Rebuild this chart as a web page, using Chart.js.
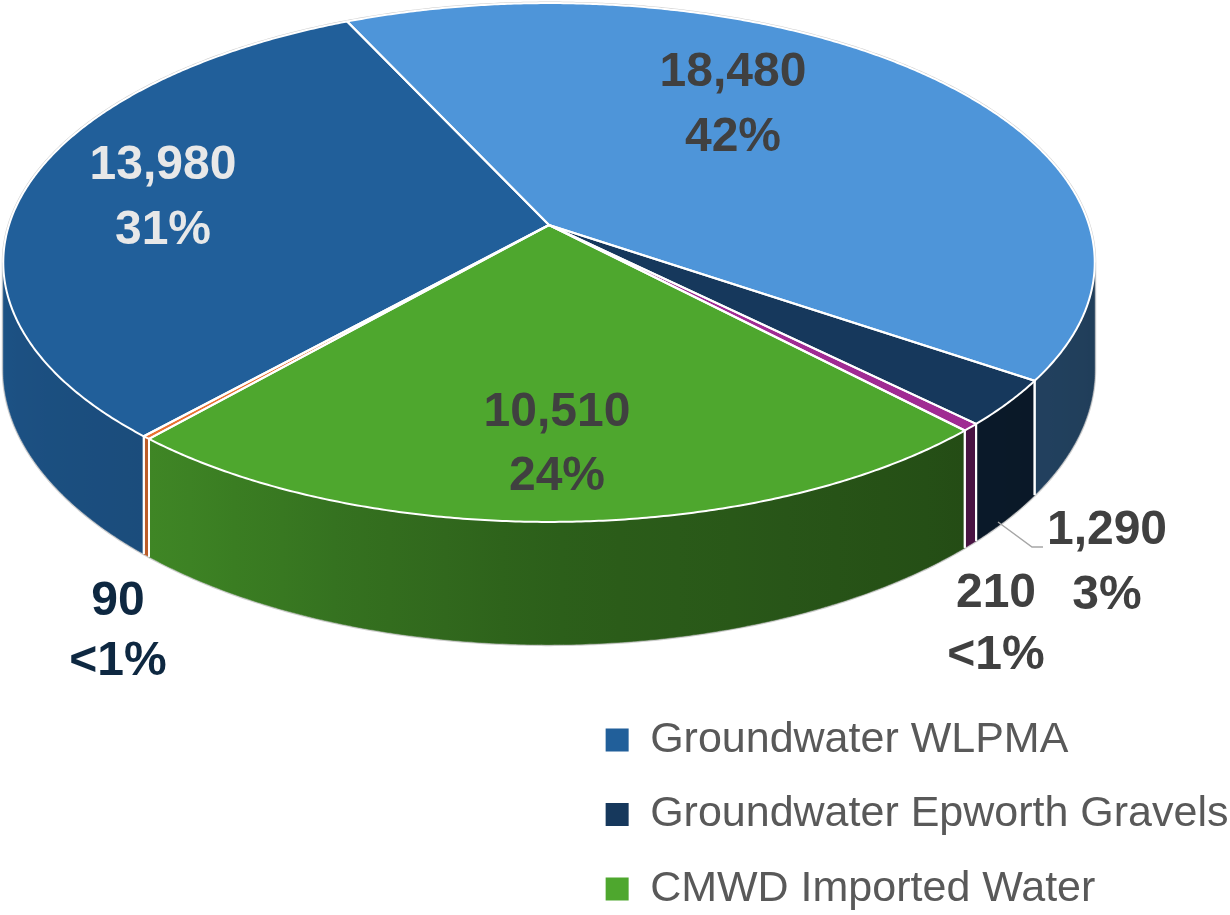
<!DOCTYPE html>
<html>
<head>
<meta charset="utf-8">
<script src="https://cdn.jsdelivr.net/npm/chart.js@4.4.1/dist/chart.umd.min.js"></script>
<style>
  html, body { margin: 0; padding: 0; background: #ffffff; }
  #wrap { width: 1230px; height: 915px; position: relative; }
</style>
</head>
<body>
<div id="wrap"><canvas id="c" width="1230" height="915"></canvas></div>
<script>
// ---------------- data ----------------
const categories = [
  'Other source 1',
  'Groundwater Epworth Gravels',
  'Other source 2',
  'CMWD Imported Water',
  'Other source 3',
  'Groundwater WLPMA'
];
const values = [18480, 1290, 210, 10510, 90, 13980];
const valueLabels = ['18,480', '1,290', '210', '10,510', '90', '13,980'];
const percentLabels = ['42%', '3%', '<1%', '24%', '<1%', '31%'];
const legendCategories = ['Groundwater WLPMA', 'Groundwater Epworth Gravels', 'CMWD Imported Water'];

// ---------------- styles ----------------
const sliceColors = ['#4E95D9', '#16385C', '#A02B93', '#4EA72E', '#E97132', '#215F9A'];
// label placement (canvas px): centre of value line, centre of percent line
const labelLayout = [
  { x: 733, y1: 73,  y2: 138, color: '#404040' },
  { x: 1107, y1: 531, y2: 596, color: '#404040' },
  { x: 996, y1: 594, y2: 656, color: '#404040' },
  { x: 557, y1: 413, y2: 477, color: '#404040' },
  { x: 118, y1: 602, y2: 662, color: '#0E2841' },
  { x: 163, y1: 166, y2: 231, color: '#E8E8E8' }
];
const leaderLine = [[998, 522], [1032, 547], [1043, 547]];

// 3D projection parameters
const PROJ = { cx: 549, cy: 225, a: 540, b: 254, k: 0.1445, depth: 105 };

function proj(theta, r, z) {
  const u = r * Math.cos(theta), v = r * Math.sin(theta);
  const w = 1 - PROJ.k * v;
  return [PROJ.cx + PROJ.a * u / w, PROJ.cy + (PROJ.b * v + PROJ.depth * z) / w];
}
function hexToRgb(h) {
  const n = parseInt(h.slice(1), 16);
  return [(n >> 16) & 255, (n >> 8) & 255, n & 255];
}
function shade(hex, f) {
  const [r, g, b] = hexToRgb(hex);
  return 'rgb(' + Math.round(r * f) + ',' + Math.round(g * f) + ',' + Math.round(b * f) + ')';
}
const shadeCurve = [[0, 0.40], [40, 0.44], [90, 0.57], [130, 0.80], [180, 0.88]];
function sideFactor(theta) {
  let d = theta * 180 / Math.PI;
  d = ((d % 360) + 360) % 360;
  if (d > 180) d = 180;
  for (let i = 1; i < shadeCurve.length; i++) {
    if (d <= shadeCurve[i][0]) {
      const [d0, f0] = shadeCurve[i - 1], [d1, f1] = shadeCurve[i];
      return f0 + (f1 - f0) * (d - d0) / (d1 - d0);
    }
  }
  return shadeCurve[shadeCurve.length - 1][1];
}

const STEP = 0.4 * Math.PI / 180;

const pie3d = {
  id: 'pie3d',
  beforeDatasetDraw() { return false; },
  afterDatasetsDraw(chart) {
    const ctx = chart.ctx;
    const meta = chart.getDatasetMeta(0);
    const colors = chart.data.datasets[0].backgroundColor;
    const arcs = meta.data.map((el, i) => ({ s: el.startAngle, e: el.endAngle, color: colors[i] }));
    const t1 = Math.asin(PROJ.k), t2 = Math.PI - t1;
    ctx.save();
    ctx.lineJoin = 'round';

    // silhouette outline
    ctx.beginPath();
    let p = proj(t2, 1, 1); ctx.moveTo(p[0], p[1]);
    for (let t = t2; t <= t1 + 2 * Math.PI; t += STEP) { p = proj(t, 1, 0); ctx.lineTo(p[0], p[1]); }
    p = proj(t1, 1, 0); ctx.lineTo(p[0], p[1]);
    for (let t = t1; t <= t2; t += STEP) { p = proj(t, 1, 1); ctx.lineTo(p[0], p[1]); }
    ctx.closePath();
    ctx.strokeStyle = '#cfcfcf';
    ctx.lineWidth = 3;
    ctx.stroke();

    // side walls
    const sideEdges = [];
    arcs.forEach(arc => {
      for (let n = -1; n <= 1; n++) {
        const a = Math.max(arc.s + 2 * Math.PI * n, t1);
        const b = Math.min(arc.e + 2 * Math.PI * n, t2);
        if (b <= a) continue;
        const N = Math.max(2, Math.ceil((b - a) / STEP));
        ctx.beginPath();
        for (let i = 0; i <= N; i++) {
          const q = proj(a + (b - a) * i / N, 1, 0);
          if (i === 0) ctx.moveTo(q[0], q[1]); else ctx.lineTo(q[0], q[1]);
        }
        for (let i = N; i >= 0; i--) {
          const q = proj(a + (b - a) * i / N, 1, 1);
          ctx.lineTo(q[0], q[1]);
        }
        ctx.closePath();
        const xl = proj(b, 1, 0)[0], xr = proj(a, 1, 0)[0];
        if (xr - xl > 1) {
          const g = ctx.createLinearGradient(xl, 0, xr, 0);
          const M = 16;
          for (let i = 0; i <= M; i++) {
            const t = a + (b - a) * i / M;
            const pos = Math.min(1, Math.max(0, (proj(t, 1, 0)[0] - xl) / (xr - xl)));
            g.addColorStop(pos, shade(arc.color, sideFactor(t)));
          }
          ctx.fillStyle = g;
        } else {
          ctx.fillStyle = shade(arc.color, sideFactor((a + b) / 2));
        }
        ctx.fill();
        ctx.strokeStyle = ctx.fillStyle;
        ctx.lineWidth = 0.6;
        ctx.stroke();
        if (a > t1 + 1e-6) sideEdges.push(a);
        if (b < t2 - 1e-6) sideEdges.push(b);
      }
    });
    ctx.strokeStyle = '#ffffff';
    ctx.lineWidth = 2;
    sideEdges.forEach(t => {
      const q0 = proj(t, 1, 0), q1 = proj(t, 1, 1);
      ctx.beginPath(); ctx.moveTo(q0[0], q0[1]); ctx.lineTo(q1[0], q1[1]); ctx.stroke();
    });

    // top faces
    const topPath = arc => {
      const N = Math.max(2, Math.ceil((arc.e - arc.s) / STEP));
      ctx.beginPath();
      const c = proj(0, 0, 0);
      ctx.moveTo(c[0], c[1]);
      for (let i = 0; i <= N; i++) {
        const q = proj(arc.s + (arc.e - arc.s) * i / N, 1, 0);
        ctx.lineTo(q[0], q[1]);
      }
      ctx.closePath();
    };
    arcs.forEach(arc => { topPath(arc); ctx.fillStyle = arc.color; ctx.fill(); });
    ctx.strokeStyle = '#ffffff';
    ctx.lineWidth = 2;
    arcs.forEach(arc => { topPath(arc); ctx.stroke(); });

    // leader line
    ctx.beginPath();
    leaderLine.forEach((pt, i) => i === 0 ? ctx.moveTo(pt[0], pt[1]) : ctx.lineTo(pt[0], pt[1]));
    ctx.strokeStyle = '#A6A6A6';
    ctx.lineWidth = 1.5;
    ctx.lineJoin = 'miter';
    ctx.stroke();

    // data labels
    ctx.font = 'bold 48px "Liberation Sans", Arial, sans-serif';
    ctx.textAlign = 'center';
    ctx.textBaseline = 'middle';
    labelLayout.forEach((L, i) => {
      ctx.fillStyle = L.color;
      ctx.fillText(valueLabels[i], L.x, L.y1);
      ctx.fillText(percentLabels[i], L.x, L.y2);
    });
    ctx.restore();
  }
};

new Chart(document.getElementById('c'), {
  type: 'pie',
  data: {
    labels: categories,
    datasets: [{ data: values, backgroundColor: sliceColors, borderWidth: 0 }]
  },
  options: {
    responsive: false,
    animation: false,
    events: [],
    rotation: -25,
    layout: { padding: { top: 0, right: -8.5, bottom: -27, left: 0 } },
    plugins: {
      tooltip: { enabled: false },
      legend: {
        position: 'right',
        align: 'end',
        maxWidth: 720,
        labels: {
          font: { family: '"Liberation Sans", Arial, sans-serif', size: 43 },
          color: '#595959',
          boxWidth: 23,
          boxHeight: 23,
          padding: 31.5,
          generateLabels(chart) {
            const cats = chart.data.labels;
            const cols = chart.data.datasets[0].backgroundColor;
            return legendCategories.map(name => {
              const idx = cats.indexOf(name);
              return {
                text: name,
                fillStyle: cols[idx],
                strokeStyle: cols[idx],
                lineWidth: 0,
                fontColor: '#595959',
                hidden: false,
                index: idx
              };
            });
          }
        }
      }
    }
  },
  plugins: [pie3d]
});
</script>
</body>
</html>
